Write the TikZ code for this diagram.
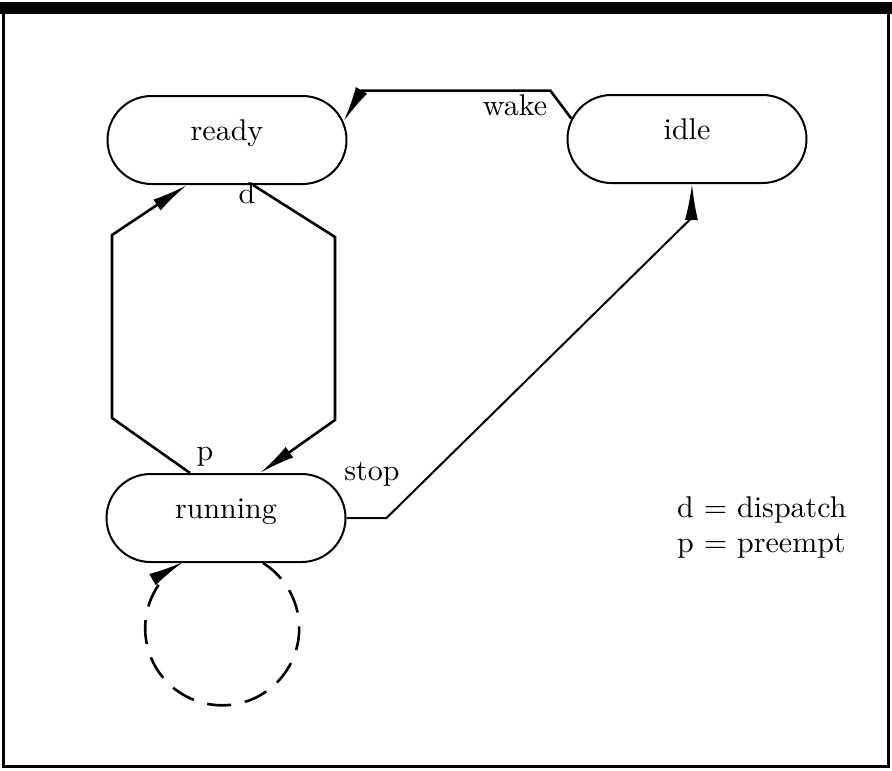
\documentclass[tikz,border=0pt]{standalone}
\usepackage{fontspec}
\setmainfont{lmroman10-regular.otf}
\usepackage{tikz}
\usetikzlibrary{arrows.meta,shapes.misc,positioning}

\begin{document}
\begin{tikzpicture}[x=1pt,y=-1pt,font=\fontsize{30}{35}\selectfont,
            state/.style={draw,rounded rectangle,line width=2pt,minimum width=239pt,minimum height=88pt,text height=20pt,text depth=20pt,inner sep=0pt},
            trans/.style={line width=2.6pt,-{Latex[length=36pt,width=13pt]}},
            lbl/.style={anchor=base,inner sep=0pt}]
            \useasboundingbox (0,0) rectangle (892,771);
            \fill (0,2) rectangle (892,14);
            \draw[line width=3pt] (3,10) -- (3,766) -- (888,766) -- (888,10);
            \node[state] (ready) at (227,140) {ready};
            \node[state] (idle) at (687,139) {idle};
            \node[state] (running) at (226,518) {running};
            \draw[trans] (idle.170) -- ++(-21,-28) -- ++(-189,0) -- (ready.9);
            \draw[trans] ([xshift=-36pt]running.north) -- ++(-78,-55) -- ++(0,-183) -- ([xshift=-40pt]ready.south);
            \draw[trans] ([xshift=26pt]ready.south) -- ++(82,52) -- ++(0,183) -- ([xshift=34pt]running.north);
            \draw[trans,line width=2pt] (running.east) -- ++(40,0) -- ++(305,-300) -- ([xshift=5pt]idle.south);
            \draw[trans,dash pattern=on 24pt off 14pt] ([xshift=37pt]running.south) arc[start angle=-58,end angle=240,radius=77];
            \node[lbl] (wakelbl) at (515,115) {wake};
            \node[lbl] (dlbl) at (247,203) {d};
            \node[lbl] (plbl) at (205,460) {p};
            \node[lbl] (stoplbl) at (372,480) {stop};
            \node[anchor=base west,inner sep=0pt] (dispatch) at (677,517) {d = dispatch};
            \node[anchor=base west,inner sep=0pt] (preempt) at (677,552) {p = preempt};
        \end{tikzpicture}
\end{document}
